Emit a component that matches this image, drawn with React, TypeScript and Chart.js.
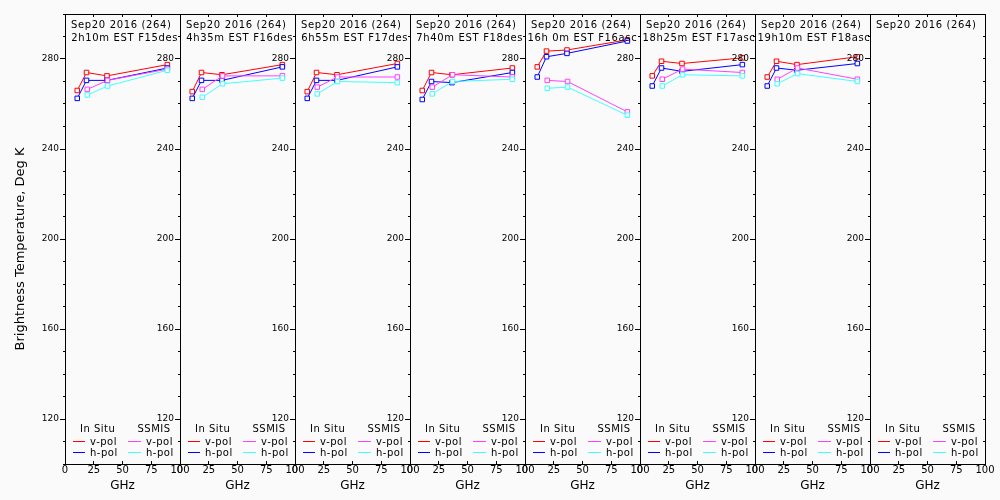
import React, { useEffect, useRef } from 'react';
import { Chart, registerables } from 'chart.js';

Chart.register(...registerables);

// ---------- data ----------
const inSituGHz = [10.65, 18.7, 36.5, 89.0];
const ssmisGHz = [19.35, 37.0, 89.0];

const dateLabel = 'Sep20 2016 (264)';
const passLabels = [
  ' 2h10m EST F15des',
  ' 4h35m EST F16des',
  ' 6h55m EST F17des',
  ' 7h40m EST F18des',
  '16h 0m EST F16asc',
  '18h25m EST F17asc',
  '19h10m EST F18asc',
  '',
];

const inSituV = [
  [266, 274, 272.5, 277.5],
  [265.5, 274, 273, 277.5],
  [265.5, 274, 273, 278],
  [266, 274, 273, 276],
  [276.5, 283.5, 284, 288.5],
  [272.5, 279, 278, 280.5],
  [272, 279, 277.5, 281],
  [],
];
const inSituH = [
  [262.5, 270.5, 270.5, 276],
  [262.5, 270.5, 270.5, 276.5],
  [262.5, 270.5, 270.5, 276.5],
  [262, 270, 269.5, 274],
  [272, 281, 282.5, 288],
  [268, 276, 274.5, 277.5],
  [268, 276, 275, 278],
  [],
];
const ssmisV = [
  [266.5, 270.5, 275.5],
  [266.5, 272.5, 272.5],
  [267.5, 272, 272],
  [267.5, 273, 272],
  [270.5, 270, 256.5],
  [271, 275.5, 274],
  [271, 276, 271],
  [],
];
const ssmisH = [
  [264, 268, 275],
  [263, 269, 271.5],
  [264.5, 270, 269.5],
  [264.5, 270, 271],
  [267, 267.5, 255],
  [268, 273, 272.5],
  [269, 273.5, 270],
  [],
];

const yTitle = 'Brightness Temperature, Deg K';
const xTitle = 'GHz';
const legendHeaders = ['In Situ', 'SSMIS'];
const legendRows = ['v-pol', 'h-pol'];
const yTickValues = [120, 160, 200, 240, 280];
const yMin = 100;
const yMax = 300;
const yMinorStep = 10;
const xMin = 0;
const xMax = 100;
const xStep = 25;

// ---------- style ----------
const BG = '#fafafa';
const FONT = '"DejaVu Sans", sans-serif';
const C_IN_V = '#ff0000';
const C_IN_H = '#0000ff';
const C_SS_V = '#ff40ff';
const C_SS_H = '#40ffff';

const PANEL_LEFT = 65;
const PANEL_W = 115;
const N_PANELS = 8;

function Panel({ index }: { index: number }) {
  const ref = useRef<HTMLCanvasElement>(null);
  const isFirst = index === 0;
  const leftSpace = isFirst ? 65 : 45;
  const rightSpace = 20;
  const W = leftSpace + PANEL_W + rightSpace;
  const pageLeft = PANEL_LEFT + index * PANEL_W - leftSpace;

  useEffect(() => {
    const pts = (xs: number[], ys: number[]) => ys.map((y, i) => ({ x: xs[i], y }));
    const ds = (label: string, color: string, data: any[], order: number) => ({
      label,
      data,
      borderColor: color,
      backgroundColor: color,
      borderWidth: 1,
      showLine: true,
      tension: 0,
      pointStyle: 'rect',
      pointRadius: 3.2,
      pointBorderWidth: 1,
      pointBorderColor: color,
      pointBackgroundColor: BG,
      order,
    });

    const textPlugin = {
      id: 'panelText',
      afterDraw(chart: any) {
        const ctx = chart.ctx as CanvasRenderingContext2D;
        const L = chart.chartArea.left;
        ctx.save();
        ctx.fillStyle = '#000';
        ctx.textAlign = 'left';
        ctx.textBaseline = 'alphabetic';
        ctx.font = `10px ${FONT}`;
        (ctx as any).letterSpacing = '0.65px';
        ctx.fillText(dateLabel, L + 6, 27.5);
        if (passLabels[index]) ctx.fillText(passLabels[index], L + 2.5, 41);

        // legend
        ctx.font = `10px ${FONT}`;
        (ctx as any).letterSpacing = '0.5px';
        ctx.fillText(legendHeaders[0], L + 15, 432);
        ctx.fillText(legendHeaders[1], L + 72.5, 432);
        const rowsY = [441.5, 452.5];
        const cols = [
          { x0: L + 8, x1: L + 20, tx: L + 25, colors: [C_IN_V, C_IN_H] },
          { x0: L + 63, x1: L + 76, tx: L + 81, colors: [C_SS_V, C_SS_H] },
        ];
        cols.forEach((c) => {
          rowsY.forEach((ry, r) => {
            ctx.strokeStyle = c.colors[r];
            ctx.lineWidth = 1;
            ctx.beginPath();
            ctx.moveTo(c.x0, ry);
            ctx.lineTo(c.x1, ry);
            ctx.stroke();
            ctx.fillStyle = '#000';
            ctx.fillText(legendRows[r], c.tx, ry + 3);
          });
        });

        if (isFirst) {
          (ctx as any).letterSpacing = '0px';
          ctx.font = `13px ${FONT}`;
          ctx.translate(21 - pageLeft, 249);
          ctx.rotate(-Math.PI / 2);
          ctx.textAlign = 'center';
          ctx.textBaseline = 'middle';
          ctx.fillText(yTitle, 0, 0);
        }
        (ctx as any).letterSpacing = '0px';
        ctx.restore();
      },
    };

    const chart = new Chart(ref.current as HTMLCanvasElement, {
      type: 'scatter',
      data: {
        datasets: [
          ds('In Situ v-pol', C_IN_V, pts(inSituGHz, inSituV[index]), 4),
          ds('In Situ h-pol', C_IN_H, pts(inSituGHz, inSituH[index]), 3),
          ds('SSMIS v-pol', C_SS_V, pts(ssmisGHz, ssmisV[index]), 2),
          ds('SSMIS h-pol', C_SS_H, pts(ssmisGHz, ssmisH[index]), 1),
        ] as any,
      },
      options: {
        responsive: false,
        animation: false,
        events: [],
        layout: { autoPadding: false, padding: { left: 0, right: rightSpace, top: 14, bottom: 0 } } as any,
        plugins: { legend: { display: false }, tooltip: { enabled: false }, title: { display: false } },
        scales: {
          x: {
            type: 'linear',
            position: 'bottom',
            min: xMin,
            max: xMax,
            ticks: {
              stepSize: xStep,
              autoSkip: false,
              maxRotation: 0,
              padding: 3,
              color: '#000',
              font: { family: FONT, size: 10 },
            },
            grid: { drawOnChartArea: false, drawTicks: true, tickLength: -3, color: '#000' },
            border: { display: true, color: '#000', width: 1 },
            title: {
              display: true,
              text: xTitle,
              color: '#000',
              font: { family: FONT, size: 12 },
              padding: { top: 0, bottom: 7 },
            },
            afterFit: (s: any) => {
              s.height = 36;
            },
          },
          xTop: {
            type: 'linear',
            position: 'top',
            min: xMin,
            max: xMax,
            ticks: { stepSize: xStep, callback: () => '' },
            grid: { drawOnChartArea: false, drawTicks: true, tickLength: -3, color: '#000' },
            border: { display: true, color: '#000', width: 1 },
            afterFit: (s: any) => {
              s.height = 0;
            },
          },
          y: {
            type: 'linear',
            position: 'left',
            weight: 1,
            min: yMin,
            max: yMax,
            afterBuildTicks: (s: any) => {
              s.ticks = yTickValues.map((value) => ({ value }));
            },
            ticks: { padding: 1, color: '#000', font: { family: FONT, size: 9 } },
            grid: { drawOnChartArea: false, drawTicks: true, tickLength: 5, color: '#000' },
            border: { display: true, color: '#000', width: 1 },
            afterFit: (s: any) => {
              s.width = leftSpace;
            },
          },
          yMinor: {
            type: 'linear',
            position: 'left',
            weight: 0,
            min: yMin,
            max: yMax,
            ticks: { stepSize: yMinorStep, callback: () => '' },
            grid: { drawOnChartArea: false, drawTicks: true, tickLength: 2, color: '#000' },
            border: { display: false },
            afterFit: (s: any) => {
              s.width = 0;
            },
          },
          yRight: {
            type: 'linear',
            position: 'right',
            min: yMin,
            max: yMax,
            ticks: { stepSize: yMinorStep, callback: () => '' },
            grid: { drawOnChartArea: false, drawTicks: true, tickLength: -2, color: '#000' },
            border: { display: true, color: '#000', width: 1 },
            afterFit: (s: any) => {
              s.width = 0;
            },
          },
        } as any,
      },
      plugins: [textPlugin],
    });
    return () => chart.destroy();
  }, [index]);

  return (
    <canvas
      ref={ref}
      width={W}
      height={500}
      style={{ position: 'absolute', left: pageLeft, top: 0, width: W, height: 500 }}
    />
  );
}

export default function App() {
  return (
    <div
      style={{
        position: 'absolute',
        left: 0,
        top: 0,
        width: 1000,
        height: 500,
        background: BG,
        overflow: 'hidden',
      }}
    >
      {Array.from({ length: N_PANELS }, (_, i) => (
        <Panel key={i} index={i} />
      ))}
    </div>
  );
}
